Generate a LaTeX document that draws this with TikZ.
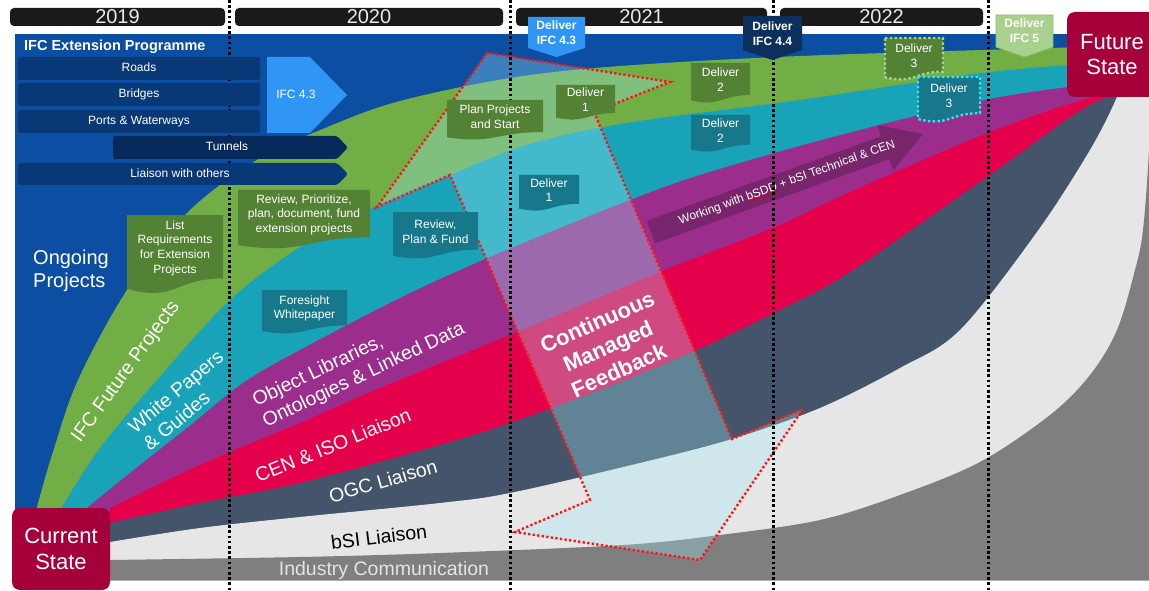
\documentclass[tikz,border=0pt]{standalone}
\usepackage{fontspec}
\setmainfont{Liberation Sans}
\usetikzlibrary{decorations.pathmorphing}
\definecolor{bgblue}{RGB}{12,78,162}
\definecolor{rowblue}{RGB}{9,56,118}
\definecolor{tunnelblue}{RGB}{6,42,92}
\definecolor{ifcblue}{RGB}{47,150,245}
\definecolor{bandgreen}{RGB}{114,174,70}
\definecolor{bandteal}{RGB}{24,163,184}
\definecolor{bandmagenta}{RGB}{155,45,140}
\definecolor{bandred}{RGB}{229,0,75}
\definecolor{bandslate}{RGB}{68,84,106}
\definecolor{bandlight}{RGB}{230,230,230}
\definecolor{bandgrey}{RGB}{127,127,127}
\definecolor{statered}{RGB}{166,0,58}
\definecolor{docgreen}{RGB}{84,130,53}
\definecolor{docteal}{RGB}{22,120,138}
\definecolor{purplearrow}{RGB}{120,38,108}
\definecolor{tagnavy}{RGB}{13,47,94}
\definecolor{taggreen}{RGB}{169,209,142}
\definecolor{taggreenline}{RGB}{140,190,110}
\definecolor{yearblack}{RGB}{26,26,26}
\definecolor{yeartext}{RGB}{235,235,235}
\definecolor{feedfill}{RGB}{160,232,245}
\definecolor{dotgreen}{RGB}{169,209,142}
\definecolor{dotcyan}{RGB}{60,225,240}
\definecolor{feedred}{RGB}{255,20,20}
\definecolor{inducomm}{RGB}{228,228,228}
\newcommand{\docbox}[7]{%
  \path[#6] (#2,#3) -- (#4,#3) -- (#4,{#3+0.802*#5}) .. controls ({(#2+#4)/2},{#3+0.802*#5}) and ({(#2+#4)/2},{#3+1.107*#5}) .. (#2,{#3+0.934*#5}) -- cycle;
  \node[doctext] (#1) at ({(#2+#4)/2},{#3+0.42*#5}) {#7};
}
\begin{document}
\begin{tikzpicture}[x=1pt,y=-1pt,
  yearbar/.style={fill=yearblack, rounded corners=4pt, text=yeartext, font=\fontsize{20}{20}\selectfont, inner sep=0pt, minimum height=18pt},
  rowbox/.style={fill=rowblue, rounded corners=2.5pt, text=white, font=\fontsize{12}{14}\selectfont, inner sep=0pt, minimum height=23pt, text height=8.6pt, text depth=2.5pt},
  rowtext/.style={text=white, font=\fontsize{12}{14}\selectfont, inner sep=0pt, text height=8.6pt, text depth=2.5pt},
  doctext/.style={text=white, font=\fontsize{12}{14.7}\selectfont, align=center, inner sep=0pt},
  bandlabel/.style={text=white, font=\fontsize{19.5}{23}\selectfont, inner sep=0pt},
  timeline/.style={black, line width=3pt, dash pattern=on 2.6pt off 2.6pt},
  feedline/.style={feedred, line width=2.4pt, dash pattern=on 2.3pt off 2.3pt, line join=miter},
  dotborder/.style={line width=2.4pt, dash pattern=on 2.4pt off 2.4pt},
  tagtext/.style={text=white, font=\bfseries\fontsize{12}{15}\selectfont, align=center, inner sep=0pt},
  statebox/.style={fill=statered, rounded corners=8pt, text=white, font=\fontsize{22}{25.5}\selectfont, align=center, inner sep=0pt}]
\useasboundingbox (0,0) rectangle (1149,591);
\clip (0,0) rectangle (1149,591);
\fill[white] (0,0) rectangle (1149,591);

% year bars
\node[yearbar, minimum width=215pt] (y2019) at (117.5,17) {2019};
\node[yearbar, minimum width=268pt] (y2020) at (369,17) {2020};
\node[yearbar, minimum width=251pt] (y2021) at (641.5,17) {2021};
\node[yearbar, minimum width=203pt] (y2022) at (881.5,17) {2022};

% main blue panel
\fill[bgblue] (15,34) rectangle (1149,580);

% bands
\fill[bandgreen] plot[smooth,tension=0.55] coordinates {(37,507) (52,455) (78,380) (127,290) (187,213) (257,160) (330,126) (400,101) (510,78) (620,66) (800,56) (1050,48) (1149,45)} -- (1149,580) -- (37,580) -- cycle;
\fill[bandteal] plot[smooth,tension=0.55] coordinates {(62,507) (100,448) (157,380) (230,300) (300,247) (373,207) (450,175) (533,143) (633,122) (800,100) (990,72) (1149,60)} -- (1149,580) -- (62,580) -- cycle;
\fill[bandmagenta] plot[smooth,tension=0.55] coordinates {(88,507) (140,465) (187,428) (243,383) (300,350) (400,298) (483,260) (560,228) (630,200) (700,175) (833,137) (1000,97) (1149,78)} -- (1149,580) -- (88,580) -- cycle;
\fill[bandred] plot[smooth,tension=0.55] coordinates {(110,508) (200,465) (300,423) (380,388) (510,335) (660,272) (775,227) (850,192) (990,132) (1083,100) (1149,85)} -- (1149,580) -- (110,580) -- cycle;
\fill[bandslate] plot[smooth,tension=0.55] coordinates {(110,523) (200,503) (300,483) (440,445) (510,423) (600,390) (697,350) (780,310) (850,272) (990,175) (1090,105) (1149,88)} -- (1149,580) -- (110,580) -- cycle;
\fill[bandlight] plot[smooth,tension=0.55] coordinates {(110,542) (200,528) (300,517) (440,503) (510,493) (640,463) (732,439) (820,408) (900,368) (960,330) (1037,232) (1090,150) (1117,97) (1130,60)} -- (1149,60) -- (1149,580) -- (110,580) -- cycle;
\fill[bandgrey] plot[smooth,tension=0.55] coordinates {(110,560) (300,557) (440,553) (623,545) (720,535) (820,520) (900,495) (980,462) (1050,415) (1090,375) (1117,330) (1135,270) (1143,230) (1149,150) (1152,60)} -- (1152,580) -- (110,580) -- cycle;

% band labels
\node[bandlabel, font=\fontsize{20}{23}\selectfont, align=left] (ongoing) at (71,271) {Ongoing\\Projects};
\node[bandlabel, rotate=54] (lblifc) at (126,372) {IFC Future Projects};
\node[bandlabel, rotate=40, align=left] (lblwp) at (183,400) {White Papers\\\& Guides};
\node[bandlabel, rotate=25.5, align=left] (lblobj) at (359,365) {Object Libraries,\\Ontologies \& Linked Data};
\node[bandlabel, rotate=22] (lblcen) at (333,445) {CEN \& ISO Liaison};
\node[bandlabel, rotate=16] (lblogc) at (383,481) {OGC Liaison};
\node[bandlabel, rotate=7, text=black] (lblbsi) at (379,537) {bSI Liaison};
\node[bandlabel, text=inducomm] (lblind) at (384,570) {Industry Communication};

% purple arrow
\begin{scope}[shift={(651,232)}, rotate=19.8]
  \fill[purplearrow] (0,-12) -- (249,-12) -- (249,-24) -- (289,0) -- (249,24) -- (249,12) -- (0,12) -- cycle;
\end{scope}
\node[rowtext, rotate=19.8] (bsdd) at (787,183) {Working with bSDD + bSI Technical \& CEN};
\begin{scope}[shift={(787,183)}, rotate=19.8]
  \draw[red!85!black, line width=0.6pt, decorate, decoration={snake, amplitude=0.6pt, segment length=2.6pt}] (-43,4.6) -- (-11,4.6);
\end{scope}

% feedback double arrow
\coordinate (fa) at (487,53);
\coordinate (fb) at (670,82);
\coordinate (fc) at (594,112);
\coordinate (fd) at (732,439);
\coordinate (fe) at (803,409);
\coordinate (ff) at (700,560);
\coordinate (fg) at (515,532);
\coordinate (fh) at (590,500);
\coordinate (fi) at (450,175);
\coordinate (fj) at (377,207);
\fill[feedfill, opacity=0.32] (fa) -- (fb) -- (fc) -- (fd) -- (fe) -- (ff) -- (fg) -- (fh) -- (fi) -- (fj) -- cycle;
\draw[feedline] (fa) -- (fb) -- (fc) -- (fd) -- (fe) -- (ff) -- (fg) -- (fh) -- (fi) -- (fj) -- cycle;
\node[text=white, font=\bfseries\fontsize{22}{26.5}\selectfont, align=center, inner sep=0pt, rotate=24] (cmf) at (608,346) {Continuous\\Managed\\Feedback};

% timeline dotted lines
\foreach \xx/\nm in {229/ta, 510/tb, 773/tc, 988/td} {
  \coordinate (\nm top) at (\xx,0);
  \coordinate (\nm bot) at (\xx,591);
  \draw[timeline] (\nm top) -- (\nm bot);
}

% IFC extension programme rows
\node[anchor=west, text=white, font=\bfseries\fontsize{14.5}{16}\selectfont, inner sep=0pt] (iep) at (24,47) {IFC Extension Programme};
\node[rowbox, minimum width=242pt] (roads) at (139,68.5) {Roads};
\node[rowbox, minimum width=242pt] (bridges) at (139,94.5) {Bridges};
\node[rowbox, minimum width=242pt] (ports) at (139,121.5) {Ports \& Waterways};
\fill[tunnelblue, rounded corners=2.5pt] (113,136) -- (337,136) -- (348,147.5) -- (337,159) -- (113,159) -- cycle;
\node[rowtext] (tunnels) at (227,147.5) {Tunnels};
\fill[rowblue, rounded corners=2.5pt] (18,163) -- (337,163) -- (348,174) -- (337,185) -- (18,185) -- cycle;
\node[rowtext] (liaison) at (180,174) {Liaison with others};
\fill[ifcblue] (267,57) -- (310,57) -- (347,95) -- (310,133) -- (267,133) -- cycle;
\node[rowtext] (ifc43) at (296,95) {IFC 4.3};

% document boxes
\docbox{docList}{127}{215}{223}{79}{fill=docgreen}{List\\Requirements\\for Extension\\Projects}
\docbox{docReview}{238}{190}{370}{59}{fill=docgreen}{Review, Prioritize,\\plan, document, fund\\extension projects}
\docbox{docPlan}{447}{100}{543}{40}{fill=docgreen}{Plan Projects\\and Start}
\docbox{docGOne}{556}{85}{615}{35}{fill=docgreen}{Deliver\\1}
\docbox{docGTwo}{691}{63}{750}{40}{fill=docgreen}{Deliver\\2}
\docbox{docGThree}{885}{38}{943}{42}{fill=docgreen, draw=dotgreen, dotborder}{Deliver\\3}
\docbox{docTOne}{519}{175}{579}{36}{fill=docteal}{Deliver\\1}
\docbox{docTTwo}{691}{115}{750}{37}{fill=docteal}{Deliver\\2}
\docbox{docTThree}{918}{77}{980}{45}{fill=docteal, draw=dotcyan, dotborder}{Deliver\\3}
\docbox{docFore}{262}{290}{347}{44}{fill=docteal}{Foresight\\Whitepaper}
\docbox{docRPF}{393}{212}{478}{47}{fill=docteal}{Review,\\Plan \& Fund}

% deliver tags
\fill[ifcblue] (528,17) -- (585,17) -- (585,48) -- (556.5,57) -- (528,48) -- cycle;
\node[tagtext] (tag43) at (556.5,33) {Deliver\\IFC 4.3};
\fill[tagnavy] (743,16) -- (802,16) -- (802,50) -- (772.5,60) -- (743,50) -- cycle;
\node[tagtext] (tag44) at (772.5,33.5) {Deliver\\IFC 4.4};
\filldraw[fill=taggreen, draw=taggreenline, line width=0.8pt] (996,15) -- (1053,15) -- (1053,47) -- (1024.5,57) -- (996,47) -- cycle;
\node[tagtext] (tag5) at (1024.5,31) {Deliver\\IFC 5};

% state boxes
\node[statebox, minimum width=90pt, minimum height=85pt] (future) at (1112,54.5) {Future\\State};
\node[statebox, minimum width=98pt, minimum height=82pt] (current) at (61,549) {Current\\State};
\end{tikzpicture}
\end{document}
